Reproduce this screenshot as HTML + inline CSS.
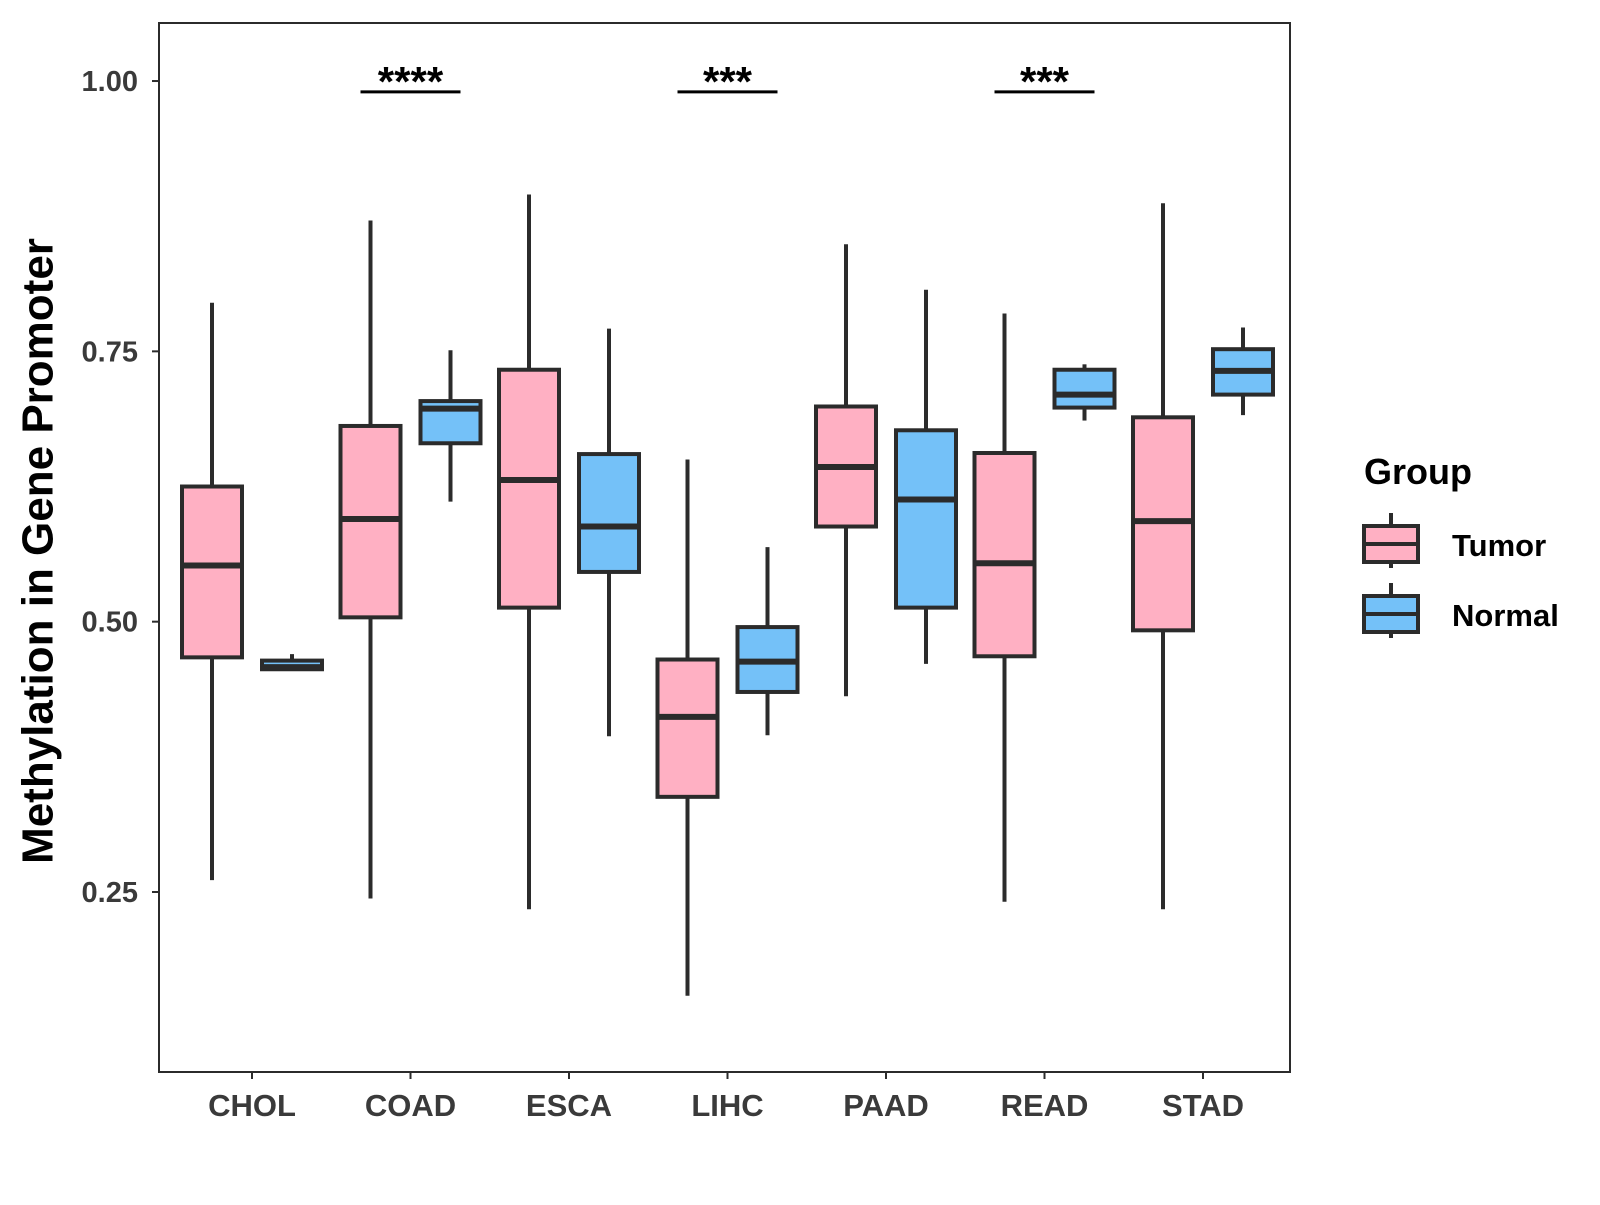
<!DOCTYPE html>
<html><head><meta charset="utf-8"><style>
body{margin:0;background:#fff;}
svg text{font-family:"Liberation Sans",Arial,sans-serif;font-weight:bold;}
</style></head><body>
<svg id="chart" width="1600" height="1200" xmlns="http://www.w3.org/2000/svg">
<rect x="159" y="23" width="1131" height="1049" fill="#fff" stroke="#2b2b2b" stroke-width="2"/>
<g id="axes"></g>
<g id="marks"></g>
<text x="41" y="551" font-size="44" text-anchor="middle" transform="rotate(-90 41 551)" dominant-baseline="middle">Methylation in Gene Promoter</text>
<g>
<text x="1364" y="484" font-size="36">Group</text>
<g>
<line x1="1391" y1="513" x2="1391" y2="568" stroke="#2b2b2b" stroke-width="4"/>
<rect x="1364" y="526" width="54" height="36" fill="#FFB0C3" stroke="#2b2b2b" stroke-width="4"/>
<line x1="1364" y1="544" x2="1418" y2="544" stroke="#2b2b2b" stroke-width="4"/>
<text x="1452" y="556" font-size="31">Tumor</text>
</g>
<g>
<line x1="1391" y1="583" x2="1391" y2="638" stroke="#2b2b2b" stroke-width="4"/>
<rect x="1364" y="596" width="54" height="36" fill="#74C1F8" stroke="#2b2b2b" stroke-width="4"/>
<line x1="1364" y1="614" x2="1418" y2="614" stroke="#2b2b2b" stroke-width="4"/>
<text x="1452" y="626" font-size="31">Normal</text>
</g>
</g>
</svg>
<script>
const categories=["CHOL","COAD","ESCA","LIHC","PAAD","READ","STAD"];
// [lower whisker, q1, median, q3, upper whisker]
const tumorStats=[[0.261,0.467,0.552,0.625,0.795],[0.244,0.504,0.595,0.681,0.871],[0.234,0.513,0.631,0.733,0.895],[0.154,0.338,0.412,0.465,0.650],[0.431,0.588,0.643,0.699,0.849],[0.241,0.468,0.554,0.656,0.785],[0.234,0.492,0.593,0.689,0.887]];
const normalStats=[[0.456,0.456,0.458,0.464,0.470],[0.611,0.665,0.697,0.704,0.751],[0.394,0.546,0.588,0.655,0.771],[0.395,0.435,0.463,0.495,0.569],[0.461,0.513,0.613,0.677,0.807],[0.686,0.698,0.710,0.733,0.738],[0.691,0.710,0.732,0.752,0.772]];
const yTicks=[0.25,0.50,0.75,1.00];
const yTickLabels=["0.25","0.50","0.75","1.00"];
const sigCategories=["COAD","LIHC","READ"];
const sigLabels=["****","***","***"];
const sigY=[0.99,0.99,0.99];

const NS="http://www.w3.org/2000/svg";
const y=v=>892-(v-0.25)*1081.3;
const x=i=>252+i*158.5;
const axes=document.getElementById('axes'),marks=document.getElementById('marks');
function mk(tag,attrs,parent){const e=document.createElementNS(NS,tag);for(const k in attrs)e.setAttribute(k,attrs[k]);parent.appendChild(e);return e;}
yTicks.forEach((t,i)=>{
  const l=mk('line',{x1:152,x2:159,y1:y(t),y2:y(t),stroke:'#2b2b2b','stroke-width':2},axes);
  
  
  const tx=mk('text',{x:138,y:y(t)+10,'font-size':29,fill:'#3a3a3a','text-anchor':'end'},axes);
  tx.textContent=yTickLabels[i];
  
  
});
categories.forEach((c,i)=>{
  const l=mk('line',{x1:x(i),x2:x(i),y1:1072,y2:1079,stroke:'#2b2b2b','stroke-width':2},axes);
  
  
  const tx=mk('text',{x:x(i),y:1116,'font-size':31,fill:'#3a3a3a','text-anchor':'middle'},axes);
  tx.textContent=c;
  
  
});
function box(cx,s,fill,name){
  const g=mk('g',{},marks);
  
  
  mk('line',{x1:cx,x2:cx,y1:y(s[4]),y2:y(s[0]),stroke:'#2b2b2b','stroke-width':4},g);
  mk('rect',{x:cx-30,y:y(s[3]),width:60,height:Math.max(y(s[1])-y(s[3]),1),fill:fill,stroke:'#2b2b2b','stroke-width':4},g);
  mk('line',{x1:cx-30,x2:cx+30,y1:y(s[2]),y2:y(s[2]),stroke:'#2b2b2b','stroke-width':6},g);
}
categories.forEach((c,i)=>{
  box(x(i)-40,tumorStats[i],'#FFB0C3','box-tumor-'+c.toLowerCase());
  box(x(i)+40,normalStats[i],'#74C1F8','box-normal-'+c.toLowerCase());
});
sigCategories.forEach((c,k)=>{
  const i=categories.indexOf(c);
  const l=mk('line',{x1:x(i)-50,x2:x(i)+50,y1:y(sigY[k]),y2:y(sigY[k]),stroke:'#000','stroke-width':3},marks);
  
  
  const t=mk('text',{x:x(i),y:y(sigY[k])+4,'font-size':42,'text-anchor':'middle'},marks);
  t.textContent=sigLabels[k];
  
  
});
</script>
</body></html>
